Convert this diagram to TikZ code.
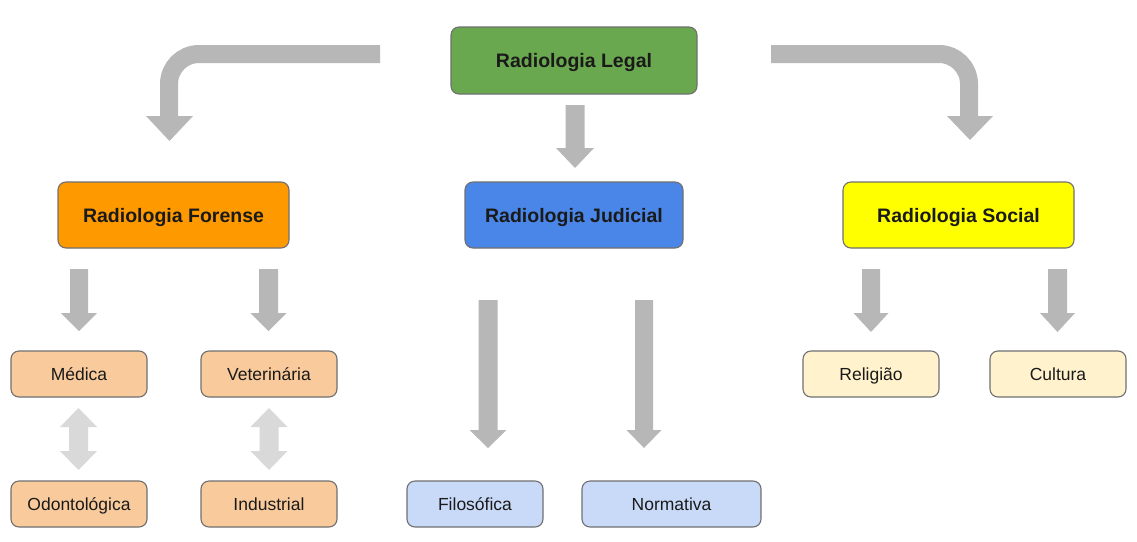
\documentclass[tikz,border=0pt]{standalone}
\usepackage{fontspec}
\setmainfont{Liberation Sans}
\definecolor{cgreen}{HTML}{6AA84F}
\definecolor{corange}{HTML}{FF9900}
\definecolor{cblue}{HTML}{4A86E8}
\definecolor{cyellow}{HTML}{FFFF00}
\definecolor{lorange}{HTML}{F9CB9C}
\definecolor{lblue}{HTML}{C9DAF8}
\definecolor{lyellow}{HTML}{FFF2CC}
\definecolor{agray}{HTML}{B7B7B7}
\definecolor{dgray}{HTML}{D9D9D9}
\definecolor{bordergray}{HTML}{707070}
\definecolor{txt}{HTML}{1A1A1A}
% color, x, ytop, ytip, shaft half, head half, head length
\newcommand{\blockdn}[7]{%
  \fill[#1] ({#2-#5},#3) -- ({#2+#5},#3) -- ({#2+#5},{#4-#7}) -- ({#2+#6},{#4-#7})
    -- (#2,#4) -- ({#2-#6},{#4-#7}) -- ({#2-#5},{#4-#7}) -- cycle;}
% color, x, ytop tip, ybottom tip, shaft half, head half, head length
\newcommand{\blockdbl}[7]{%
  \fill[#1] (#2,#3) -- ({#2+#6},{#3+#7}) -- ({#2+#5},{#3+#7}) -- ({#2+#5},{#4-#7})
    -- ({#2+#6},{#4-#7}) -- (#2,#4) -- ({#2-#6},{#4-#7}) -- ({#2-#5},{#4-#7})
    -- ({#2-#5},{#3+#7}) -- ({#2-#6},{#3+#7}) -- cycle;}
\tikzset{
  box/.style={draw=bordergray, line width=1.1pt, rounded corners=8pt, inner sep=0pt,
    text=txt, align=center, text depth=0pt},
  bigbox/.style={box, minimum height=66pt, text height=14pt,
    font=\fontsize{19.5}{22}\selectfont\bfseries},
  smallbox/.style={box, minimum width=136pt, minimum height=46pt, text height=12.5pt,
    font=\fontsize{17.5}{20}\selectfont},
  curvearrow/.style={draw=agray, line width=18pt, rounded corners=30pt}
}
\begin{document}
\begin{tikzpicture}[x=1pt,y=-1pt]
\fill[white] (0,0) rectangle (1137,541);
\useasboundingbox (0,0) rectangle (1137,541);

% main nodes
\node[bigbox, fill=cgreen, minimum width=246pt, minimum height=67pt] (legal) at (574,60.5) {Radiologia Legal};
\node[bigbox, fill=corange, minimum width=231pt] (forense) at (173.5,215) {Radiologia Forense};
\node[bigbox, fill=cblue, minimum width=218pt] (judicial) at (574,215) {Radiologia Judicial};
\node[bigbox, fill=cyellow, minimum width=231pt] (social) at (958.5,215) {Radiologia Social};

% leaves
\node[smallbox, fill=lorange] (medica) at (79,374) {Médica};
\node[smallbox, fill=lorange] (veter) at (269,374) {Veterinária};
\node[smallbox, fill=lorange] (odonto) at (79,504) {Odontológica};
\node[smallbox, fill=lorange] (indus) at (269,504) {Industrial};
\node[smallbox, fill=lblue] (filo) at (475,504) {Filosófica};
\node[smallbox, fill=lblue, minimum width=179pt] (norma) at (671.5,504) {Normativa};
\node[smallbox, fill=lyellow] (relig) at (871,374) {Religião};
\node[smallbox, fill=lyellow] (cult) at (1058,374) {Cultura};

% curved arrows from Legal
\coordinate (lstart) at (380,54);
\coordinate (lcorner) at (169,54);
\coordinate (lend) at (169,117);
\draw[curvearrow] (lstart) -- (lcorner) -- (lend);
\fill[agray] (146,116) -- (193,116) -- (169.5,141) -- cycle;

\coordinate (rstart) at (771,54);
\coordinate (rcorner) at (969,54);
\coordinate (rend) at (969,117);
\draw[curvearrow] (rstart) -- (rcorner) -- (rend);
\fill[agray] (947,116) -- (993,116) -- (970,140) -- cycle;

% straight arrows
\blockdn{agray}{575}{105}{168}{9.5}{19}{20}
\blockdn{agray}{79}{269}{331}{9}{18}{18}
\blockdn{agray}{268.5}{269}{331}{9.5}{18}{18}
\blockdn{agray}{488}{300}{448}{9.5}{18.5}{18}
\blockdn{agray}{644}{300}{448}{9}{17.5}{18}
\blockdn{agray}{871}{269}{332}{9}{17.5}{19}
\blockdn{agray}{1057.5}{269}{332}{9.5}{17.5}{19}

% double arrows
\blockdbl{dgray}{78.5}{408}{470}{9.5}{18.5}{19}
\blockdbl{dgray}{269}{408}{470}{9.5}{18.5}{19}
\end{tikzpicture}
\end{document}
